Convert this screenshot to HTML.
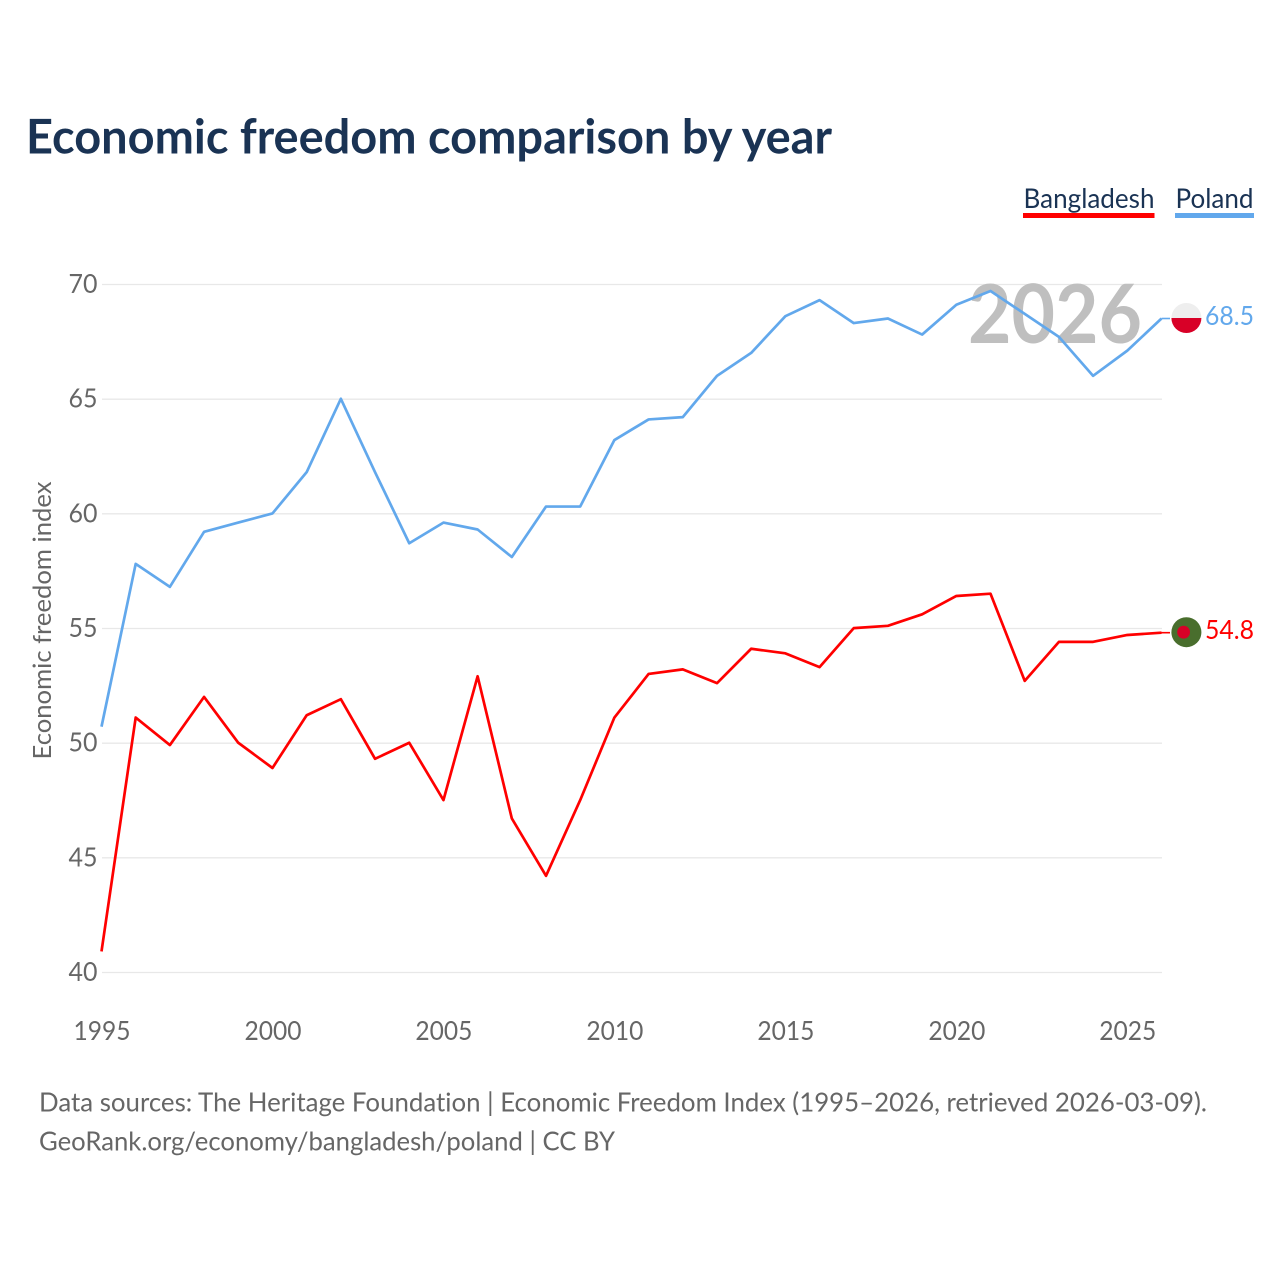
<!DOCTYPE html>
<html lang="en">
<head>
<meta charset="utf-8">
<title>Economic freedom comparison by year</title>
<style>
html,body{margin:0;padding:0;background:#fff;width:1280px;height:1280px;overflow:hidden}
svg{display:block}
text{font-family:"Lato","Carlito","Liberation Sans",sans-serif;font-variant-ligatures:none}
</style>
</head>
<body>
<svg id="chart" xmlns="http://www.w3.org/2000/svg" width="1280" height="1280" viewBox="0 0 1280 1280">
  <text x="26" y="153.5" font-size="47.5" font-weight="700" fill="#1a3354" textLength="806" lengthAdjust="spacingAndGlyphs">Economic freedom comparison by year</text>

  <g>
    <g>
      <text x="1023.5" y="208" font-size="27" fill="#1a3354" textLength="131" lengthAdjust="spacingAndGlyphs">Bangladesh</text>
      <rect x="1023" y="213" width="131.5" height="5" fill="#ff0000"/>
    </g>
    <g>
      <text x="1175.5" y="208" font-size="27" fill="#1a3354" textLength="78" lengthAdjust="spacingAndGlyphs">Poland</text>
      <rect x="1175" y="213" width="79" height="5" fill="#62a8ec"/>
    </g>
  </g>

  <text transform="translate(51,759.5) rotate(-90)" font-size="25.5" fill="#666666" textLength="278" lengthAdjust="spacingAndGlyphs">Economic freedom index</text>

  <g id="grid"></g>
  <g id="yticks"></g>
  <g id="xticks"></g>

  <text x="968" y="343" font-size="81" font-weight="700" fill="#bfbfbf" textLength="174" lengthAdjust="spacingAndGlyphs">2026</text>

  <g id="series"></g>

  <g>
    <clipPath id="pl-clip"><circle cx="1186.4" cy="318" r="15"/></clipPath>
    <g clip-path="url(#pl-clip)">
      <rect x="1170" y="302" width="32" height="16" fill="#eeeeee"/>
      <rect x="1170" y="318" width="32" height="16" fill="#d80027"/>
    </g>
    <text x="1205" y="325" font-size="26" fill="#62a8ec" textLength="49" lengthAdjust="spacingAndGlyphs">68.5</text>
  </g>
  <g>
    <circle cx="1186.4" cy="632.2" r="15" fill="#496e2d"/>
    <circle cx="1183.6" cy="632.2" r="6.4" fill="#d80027"/>
    <text x="1205" y="639" font-size="26" fill="#ff0000" textLength="49" lengthAdjust="spacingAndGlyphs">54.8</text>
  </g>

  <g>
    <text x="39" y="1111.5" font-size="26.5" fill="#666666" textLength="1168" lengthAdjust="spacingAndGlyphs">Data sources: The Heritage Foundation | Economic Freedom Index (1995–2026, retrieved 2026-03-09).</text>
    <text x="39" y="1150.5" font-size="26.5" fill="#666666" textLength="576" lengthAdjust="spacingAndGlyphs">GeoRank.org/economy/bangladesh/poland | CC BY</text>
  </g>
</svg>
<script>
const years = [1995,1996,1997,1998,1999,2000,2001,2002,2003,2004,2005,2006,2007,2008,2009,2010,2011,2012,2013,2014,2015,2016,2017,2018,2019,2020,2021,2022,2023,2024,2025,2026];
const bangladesh = [40.9,51.1,49.9,52.0,50.0,48.9,51.2,51.9,49.3,50.0,47.5,52.9,46.7,44.2,47.5,51.1,53.0,53.2,52.6,54.1,53.9,53.3,55.0,55.1,55.6,56.4,56.5,52.7,54.4,54.4,54.7,54.8];
const poland = [50.7,57.8,56.8,59.2,59.6,60.0,61.8,65.0,61.8,58.7,59.6,59.3,58.1,60.3,60.3,63.2,64.1,64.2,66.0,67.0,68.6,69.3,68.3,68.5,67.8,69.1,69.7,68.7,67.7,66.0,67.1,68.5];
const yTickValues = [40,45,50,55,60,65,70];
const xTickValues = [1995,2000,2005,2010,2015,2020,2025];

const NS = 'http://www.w3.org/2000/svg';
function xScale(year){ return 101.5 + (year - 1995) * (1161.5 - 101.5) / 31; }
function yScale(v){ return 972.5 - (v - 40) * (972.5 - 284.5) / 30; }

const gridGroup = document.getElementById('grid');
const yTickGroup = document.getElementById('yticks');
const xTickGroup = document.getElementById('xticks');
const seriesGroup = document.getElementById('series');

yTickValues.forEach(function(v){
  const line = document.createElementNS(NS,'line');
  
  
  line.setAttribute('x1', 102);
  line.setAttribute('x2', 1162);
  line.setAttribute('y1', yScale(v));
  line.setAttribute('y2', yScale(v));
  line.setAttribute('stroke', '#e8e8e8');
  line.setAttribute('stroke-width', '1.3');
  gridGroup.appendChild(line);

  const label = document.createElementNS(NS,'text');
  
  
  label.setAttribute('x', 97.5);
  label.setAttribute('y', yScale(v) + 8.5);
  label.setAttribute('text-anchor', 'end');
  label.setAttribute('font-size', '26');
  label.setAttribute('fill', '#666666');
  label.setAttribute('textLength', '29');
  label.setAttribute('lengthAdjust', 'spacingAndGlyphs');
  label.textContent = String(v);
  yTickGroup.appendChild(label);
});

xTickValues.forEach(function(y){
  const label = document.createElementNS(NS,'text');
  
  
  label.setAttribute('x', xScale(y) + 0.5);
  label.setAttribute('y', 1040);
  label.setAttribute('text-anchor', 'middle');
  label.setAttribute('font-size', '26');
  label.setAttribute('fill', '#666666');
  label.setAttribute('textLength', '57');
  label.setAttribute('lengthAdjust', 'spacingAndGlyphs');
  label.textContent = String(y);
  xTickGroup.appendChild(label);
});

function drawSeries(values, color, name, connectorEndX){
  const path = document.createElementNS(NS,'path');
  const baseY = function(v){ return (yScale(v) - 0.4).toFixed(2); };
  let d = values.map(function(v,i){ return (i ? 'L' : 'M') + xScale(years[i]).toFixed(2) + ' ' + baseY(v); }).join(' ');
  
  
  path.setAttribute('d', d);
  path.setAttribute('fill', 'none');
  path.setAttribute('stroke', color);
  path.setAttribute('stroke-width', '2.7');
  path.setAttribute('stroke-linejoin', 'round');
  seriesGroup.appendChild(path);

  const connector = document.createElementNS(NS,'line');
  const lastX = xScale(years[years.length - 1]);
  const lastY = baseY(values[values.length - 1]);
  
  
  connector.setAttribute('x1', lastX);
  connector.setAttribute('x2', connectorEndX);
  connector.setAttribute('y1', lastY);
  connector.setAttribute('y2', lastY);
  connector.setAttribute('stroke', color);
  connector.setAttribute('stroke-width', '1.6');
  seriesGroup.appendChild(connector);
}
drawSeries(poland, '#62a8ec', 'line-poland', 1170);
drawSeries(bangladesh, '#ff0000', 'line-bangladesh', 1170);
</script>
</body>
</html>
